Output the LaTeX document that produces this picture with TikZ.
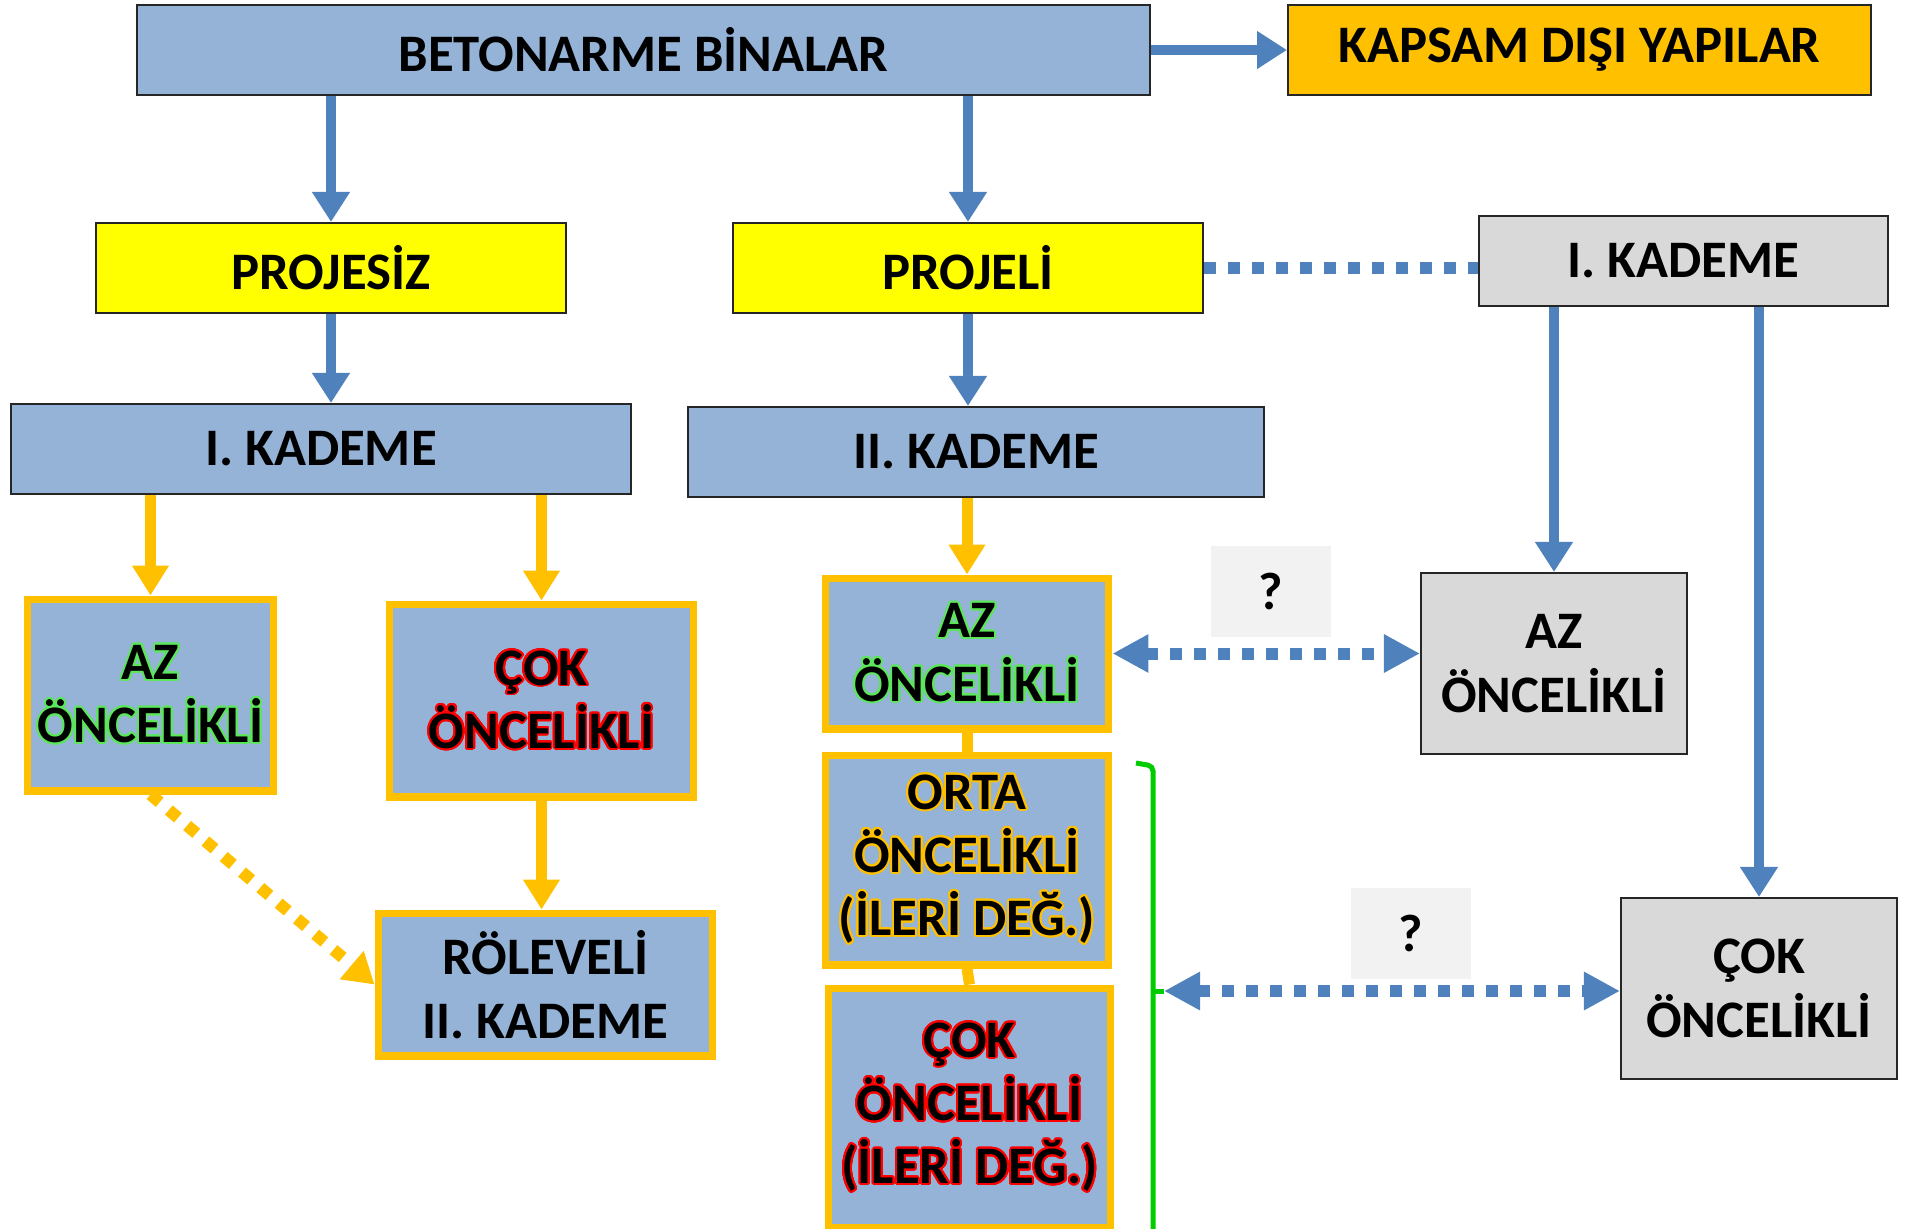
\documentclass[tikz,border=0pt]{standalone}
\usepackage{fontspec}
\setmainfont{Carlito}
\usepackage{contour}
\usetikzlibrary{positioning,arrows.meta}

\definecolor{boxblue}{HTML}{95B3D7}
\definecolor{arrowblue}{HTML}{4F81BD}
\definecolor{prioorange}{HTML}{FFC000}
\definecolor{projyellow}{HTML}{FFFF00}
\definecolor{boxgray}{HTML}{D9D9D9}
\definecolor{qgray}{HTML}{F2F2F2}
\definecolor{lowgreen}{HTML}{5CE65C}
\definecolor{bracegreen}{HTML}{00CC00}

\contourlength{1.1pt}
\contournumber{24}
\newcommand{\lowtext}[1]{\contour{lowgreen}{#1}}
\newcommand{\hightext}[1]{\contour{red}{#1}}
\newcommand{\midtext}[1]{\contour{prioorange}{#1}}

\tikzset{
  box/.style={draw=black!85, line width=1.2pt, align=center, inner sep=2pt,
    font=\bfseries\fontsize{30}{36}\selectfont},
  bluebox/.style={box, fill=boxblue},
  yellowbox/.style={box, fill=projyellow},
  graybox/.style={box, fill=boxgray},
  priobox/.style={box, draw=prioorange, line width=4pt, fill=boxblue},
  qbox/.style={box, draw=none, fill=qgray, minimum width=2.4cm, minimum height=1.82cm},
  bluearrow/.style={arrowblue, line width=0.2cm, -{Triangle[length=0.6cm,width=0.72cm]}},
  orangearrow/.style={prioorange, line width=0.22cm, -{Triangle[length=0.6cm,width=0.7cm]}},
  squaredots/.style={line width=0.24cm, dash pattern=on 0.24cm off 0.24cm},
  bluedots/.style={arrowblue, squaredots},
  blueboth/.style={bluedots, {Triangle[length=0.72cm,width=0.72cm]}-{Triangle[length=0.72cm,width=0.72cm]}},
}

\begin{document}
\begin{tikzpicture}[x=0.02cm, y=-0.02cm]
  \clip (0,0) rectangle (1907,1228);

  % top row
  \node[bluebox, minimum width=20.26cm, minimum height=1.8cm] (bet) at (643.5,50) {BETONARME BİNALAR};
  \node[box, fill=prioorange, minimum width=11.66cm, minimum height=1.8cm] (kap) at (1579.5,50) {KAPSAM DIŞI YAPILAR};

  % projects
  \node[yellowbox, minimum width=9.4cm, minimum height=1.8cm] (prz) at (331,268) {PROJESİZ};
  \node[yellowbox, minimum width=9.4cm, minimum height=1.8cm] (prl) at (968,268) {PROJELİ};
  \node[graybox, minimum width=8.18cm, minimum height=1.8cm] (kad1r) at (1683.5,261) {I. KADEME};

  % stages
  \node[bluebox, minimum width=12.4cm, minimum height=1.8cm] (kad1) at (321,449) {I. KADEME};
  \node[bluebox, minimum width=11.52cm, minimum height=1.8cm] (kad2) at (976,452) {II. KADEME};

  % priorities
  \node[priobox, minimum width=4.94cm, minimum height=3.84cm] (azl) at (150.5,695) {\lowtext{AZ}\\\lowtext{ÖNCELİKLİ}};
  \node[priobox, minimum width=6.1cm, minimum height=3.86cm] (cokl) at (541.5,700.5) {\hightext{ÇOK}\\\hightext{ÖNCELİKLİ}};
  \node[priobox, minimum width=6.7cm, minimum height=2.86cm] (rol) at (545.5,984.5) {RÖLEVELİ\\II. KADEME};
  \node[priobox, minimum width=5.68cm, minimum height=3.02cm] (azm) at (967,653.5) {\lowtext{AZ}\\\lowtext{ÖNCELİKLİ}};
  \node[priobox, minimum width=5.68cm, minimum height=4.2cm] (orta) at (967,860) {\midtext{ORTA}\\\midtext{ÖNCELİKLİ}\\\midtext{(İLERİ DEĞ.)}};
  \node[priobox, minimum width=5.66cm, minimum height=4.8cm] (cokm) at (969.5,1108) {\hightext{ÇOK}\\\hightext{ÖNCELİKLİ}\\\hightext{(İLERİ DEĞ.)}};
  \node[graybox, minimum width=5.32cm, minimum height=3.62cm] (azr) at (1554,663.5) {AZ\\ÖNCELİKLİ};
  \node[graybox, minimum width=5.52cm, minimum height=3.62cm] (cokr) at (1759,988.5) {ÇOK\\ÖNCELİKLİ};

  \node[qbox] (q1) at (1271,591.5) {?};
  \node[qbox] (q2) at (1411,933.5) {?};

  % connectors
  \draw[bluearrow] (bet) -- (kap);
  \draw[bluearrow] (prz |- bet.south) -- (prz.north);
  \draw[bluearrow] (prl |- bet.south) -- (prl.north);
  \draw[bluearrow] (prz.south) -- (prz.south |- kad1.north);
  \draw[bluearrow] (prl.south) -- (prl.south |- kad2.north);
  \draw[bluedots] (prl.east) -- (prl.east -| kad1r.west);
  \draw[bluearrow] (azr |- kad1r.south) -- (azr.north);
  \draw[bluearrow] (cokr |- kad1r.south) -- (cokr.north);

  \draw[orangearrow] (azl |- kad1.south) -- (azl.north);
  \draw[orangearrow] (cokl |- kad1.south) -- (cokl.north);
  \draw[orangearrow] (cokl.south) -- (cokl.south |- rol.north);
  \draw[orangearrow, squaredots] (azl.south) -- (rol.west);
  \draw[orangearrow] (azm |- kad2.south) -- (azm.north);
  \draw[prioorange, line width=0.22cm] (azm.south) -- (orta.north);
  \draw[prioorange, line width=0.22cm] (orta.south) -- (cokm.north);

  \draw[blueboth] (azm.east) -- (azm.east -| azr.west);

  % bracket
  \draw[bracegreen, line width=0.1cm, rounded corners=0.1cm] (1136,763) -- (1153,766) -- (1153,1240);
  \coordinate (brtip) at (1164,991);
  \draw[bracegreen, line width=0.1cm] (1153,991) -- (brtip);
  \draw[blueboth] (brtip) -- (brtip -| cokr.west);
\end{tikzpicture}
\end{document}
